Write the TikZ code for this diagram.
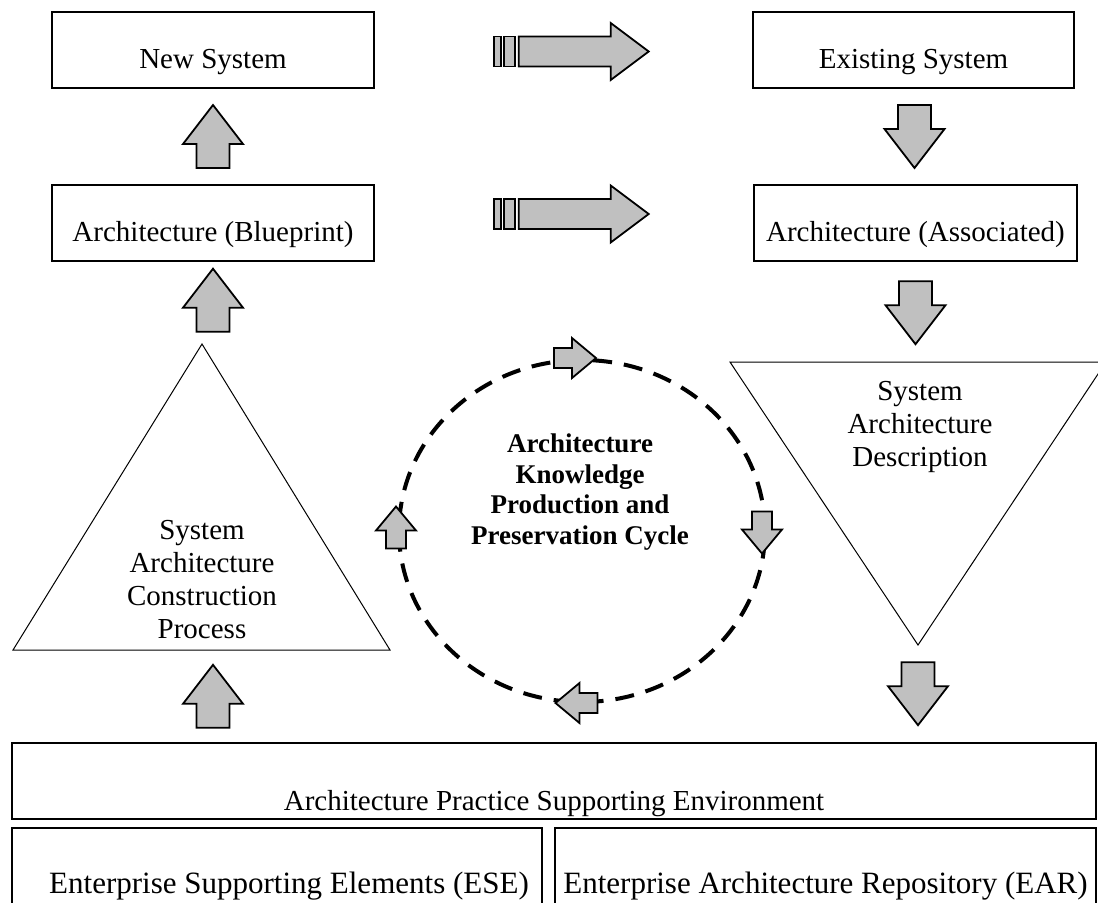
\documentclass[tikz,border=0pt]{standalone}
\usepackage{fontspec}
\setmainfont{Liberation Serif}
\usetikzlibrary{calc,shapes.geometric}
\definecolor{arrowGray}{RGB}{192,192,192}

\begin{document}
\begin{tikzpicture}[
  x=0.5pt,y=-0.5pt,
  font=\fontsize{14.5}{16.5}\selectfont,
  sysbox/.style={draw,line width=0.7pt,minimum width=161pt,minimum height=38pt,inner sep=0pt,text height=20pt,text depth=2pt},
  basebox/.style={draw,line width=0.7pt,inner sep=0pt,text depth=2pt},
  tri/.style={draw,line width=0.5pt},
  tritext/.style={align=center},
  blk/.style={draw,line width=0.9pt,fill=arrowGray,line join=miter},
  bigarrow/.pic={\path[blk] (-31.5,-16.5) -- (-7.5,-16.5) -- (-7.5,-30) -- (31.5,0) -- (-7.5,30) -- (-7.5,16.5) -- (-31.5,16.5) -- cycle;},
  smallarrow/.pic={\path[blk] (-21,-10) -- (-3,-10) -- (-3,-20) -- (21,0) -- (-3,20) -- (-3,10) -- (-21,10) -- cycle;},
  stripearrow/.pic={
    \path[blk] (0,-15) rectangle (7,15);
    \path[blk] (10,-15) rectangle (21,15);
    \path[blk] (25,-15) -- (117,-15) -- (117,-28.5) -- (155,0) -- (117,28.5) -- (117,15) -- (25,15) -- cycle;}
]
\useasboundingbox (0,0) rectangle (1098,902);

% systems and their architectures
\node[sysbox] (newsys) at (213,50) {New System};
\node[sysbox] (blueprint) at (213,223) {Architecture (Blueprint)};
\node[sysbox,minimum width=160.5pt] (existing) at (913.5,50) {Existing System};
\node[sysbox,minimum width=161.5pt] (associated) at (915.5,223) {Architecture (Associated)};

\pic at ($(newsys.east)+(119,1.5)$) {stripearrow};
\pic at ($(blueprint.east)+(119,-9)$) {stripearrow};

% the two triangles
\coordinate (sacptop) at (202,344);
\coordinate (sadtip) at (918,645);
\draw[tri] (sacptop) -- (390,650) -- (13,650) -- cycle;
\draw[tri] (730,362) -- (1106,362) -- (sadtip) -- cycle;
\node[tritext] (sacp) at (202,579.5) {System\\Architecture\\Construction\\Process};
\node[tritext] (sad) at (920,427) {System\\Architecture\\Description};

% knowledge cycle
\node[draw,ellipse,line width=2pt,dash pattern=on 9.5pt off 6pt,minimum width=183pt,minimum height=171pt,inner sep=0pt] (kcycle) at (582,531) {};
\node[font=\bfseries\fontsize{13.5}{15.2}\selectfont,align=center] (kctext) at (580,492) {Architecture\\Knowledge\\Production and\\Preservation Cycle};
\pic at ($(kcycle.north)+(-7,0)$) {smallarrow};
\pic[rotate=-90] at ($(kcycle.east)+(-5,1.5)$) {smallarrow};
\pic[rotate=180] at ($(kcycle.south)+(-5.5,-1)$) {smallarrow};
\pic[rotate=90] at ($(kcycle.west)+(-1,-3.5)$) {smallarrow};

% supporting environment
\node[basebox,minimum width=542pt,minimum height=38pt,text height=31pt] (env) at (554,781) {Architecture Practice Supporting Environment};
\node[basebox,minimum width=265pt,minimum height=42pt,text height=25pt,font=\fontsize{15.5}{17}\selectfont] (ese) at (277,870) {\hspace*{12pt}Enterprise Supporting Elements (ESE)};
\node[basebox,minimum width=270.5pt,minimum height=42pt,text height=25pt,font=\fontsize{15.5}{17}\selectfont] (ear) at (825.5,870) {Enterprise Architecture Repository (EAR)};

% block arrows between the stages
\pic[rotate=90] at ($(newsys.south)!0.5!(blueprint.north)$) {bigarrow};
\pic[rotate=90] at ($(blueprint.south)+(0,38.5)$) {bigarrow};
\pic[rotate=90] at ($(blueprint.south |- env.north)+(0,-46)$) {bigarrow};
\pic[rotate=-90] at ($(existing.south)!0.5!(associated.north)$) {bigarrow};
\pic[rotate=-90] at ($(associated.south)+(0,51)$) {bigarrow};
\pic[rotate=-90] at ($(sadtip)!0.5!(env.north -| sadtip)$) {bigarrow};
\end{tikzpicture}
\end{document}
